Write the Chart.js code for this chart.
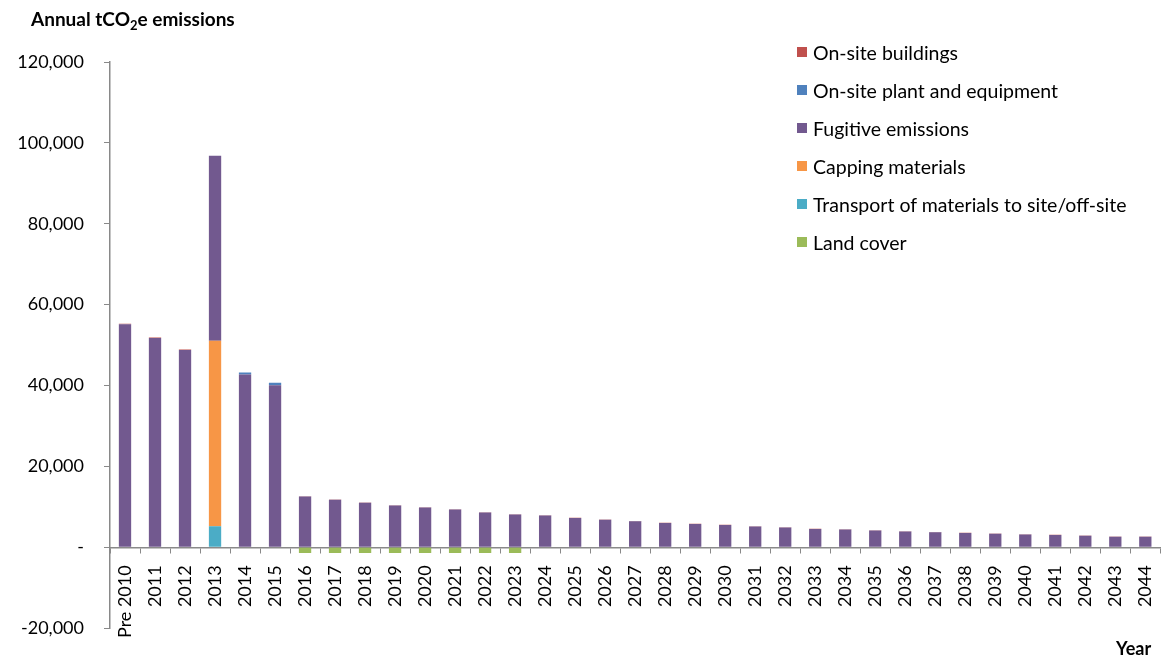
<!DOCTYPE html>
<html lang="en">
<head>
    <meta charset="UTF-8">
    <title>Annual emissions</title>
    <script src="https://cdn.jsdelivr.net/npm/chart.js"></script>
    <style>
        body { margin: 0; overflow: hidden; background: #fff; font-family: Lato, "Open Sans", sans-serif; }
        #wrap { position: absolute; left: 0; top: 0; width: 1180px; height: 659px; }
        #chartTitle { position: absolute; left: 31px; top: 7px; font-weight: bold; font-size: 19px; color: #000; }
        #chartTitle sub { font-size: 13px; vertical-align: -4px; line-height: 0; }
        #yearLabel { position: absolute; left: 1116px; top: 637px; font-weight: bold; font-size: 18px; }
        #legend { position: absolute; left: 797px; top: 41px; font-size: 19.5px; }
        #legend div { display: flex; align-items: center; height: 22px; margin-bottom: 16px; }
        #legend span.box { width: 10px; height: 10px; margin-right: 6px; display: inline-block; }
    </style>
</head>
<body>
    <div id="wrap"><canvas id="emissionsChart"></canvas></div>
    <div id="chartTitle">Annual tCO<sub>2</sub>e emissions</div>
    <div id="legend"></div>
    <div id="yearLabel">Year</div>

    <script>
        const years = ['Pre 2010', '2011', '2012', '2013', '2014', '2015', '2016', '2017', '2018', '2019',
            '2020', '2021', '2022', '2023', '2024', '2025', '2026', '2027', '2028', '2029',
            '2030', '2031', '2032', '2033', '2034', '2035', '2036', '2037', '2038', '2039',
            '2040', '2041', '2042', '2043', '2044'];

        // tCO2e per year, by source
        const onSiteBuildings = [150, 100, 100, 0, 0, 0, 60, 60, 60, 60,
            60, 60, 60, 60, 60, 60, 60, 60, 60, 60,
            60, 60, 60, 60, 60, 60, 60, 60, 60, 60,
            60, 60, 60, 60, 60];
        const onSitePlant = [0, 0, 0, 0, 500, 600, 0, 0, 0, 0,
            0, 0, 0, 0, 0, 0, 0, 0, 0, 0,
            0, 0, 0, 0, 0, 0, 0, 0, 0, 0,
            0, 0, 0, 0, 0];
        const fugitive = [55150, 51750, 48800, 45700, 42700, 40100, 12540, 11790, 11040, 10340,
            9840, 9340, 8590, 8090, 7840, 7240, 6840, 6440, 6040, 5790,
            5540, 5140, 4890, 4540, 4390, 4140, 3890, 3740, 3540, 3340,
            3140, 3040, 2890, 2640, 2590];
        const capping = [0, 0, 0, 45900, 0, 0, 0, 0, 0, 0,
            0, 0, 0, 0, 0, 0, 0, 0, 0, 0,
            0, 0, 0, 0, 0, 0, 0, 0, 0, 0,
            0, 0, 0, 0, 0];
        const transport = [0, 0, 0, 5200, 0, 0, 0, 0, 0, 0,
            0, 0, 0, 0, 0, 0, 0, 0, 0, 0,
            0, 0, 0, 0, 0, 0, 0, 0, 0, 0,
            0, 0, 0, 0, 0];
        const landCover = [0, 0, 0, 0, 0, 0, -1400, -1400, -1400, -1400,
            -1400, -1400, -1400, -1400, 0, 0, 0, 0, 0, 0,
            0, 0, 0, 0, 0, 0, 0, 0, 0, 0,
            0, 0, 0, 0, 0];

        const axisGrey = '#898989';

        // bottom of the stack first, legend lists them the other way round
        const datasets = [
            { label: 'Land cover', data: landCover, backgroundColor: '#9BBB59' },
            { label: 'Transport of materials to site/off-site', data: transport, backgroundColor: '#4BACC6' },
            { label: 'Capping materials', data: capping, backgroundColor: '#F79646' },
            { label: 'Fugitive emissions', data: fugitive, backgroundColor: '#72598F' },
            { label: 'On-site plant and equipment', data: onSitePlant, backgroundColor: '#4F81BD' },
            { label: 'On-site buildings', data: onSiteBuildings, backgroundColor: '#C0504D' }
        ];
        datasets.forEach(ds => {
            ds.barPercentage = 0.41;
            ds.categoryPercentage = 1;
            ds.borderWidth = 0;
        });

        const ctx = document.getElementById('emissionsChart').getContext('2d');
        const chart = new Chart(ctx, {
            type: 'bar',
            data: { labels: years, datasets: datasets },
            options: {
                responsive: true,
                maintainAspectRatio: false,
                animation: false,
                layout: { padding: { top: 62, bottom: 30, right: 6, left: 0 } },
                plugins: { legend: { display: false }, tooltip: { enabled: false } },
                scales: {
                    x: {
                        stacked: true,
                        position: { y: 0 },
                        grid: { display: true, drawOnChartArea: false, drawTicks: true, tickLength: 5, color: axisGrey, offset: true },
                        border: { color: axisGrey, width: 1.5 },
                        ticks: {
                            autoSkip: false, minRotation: 90, maxRotation: 90, padding: 13,
                            color: '#000', font: { family: 'Lato', size: 18 }
                        }
                    },
                    y: {
                        stacked: true,
                        min: -20000,
                        max: 120000,
                        afterFit: scale => { scale.width = 110; },
                        grid: { display: true, drawOnChartArea: false, drawTicks: true, tickLength: 6, color: axisGrey },
                        border: { color: axisGrey, width: 1.5 },
                        ticks: {
                            stepSize: 20000, padding: 20, color: '#000',
                            font: { family: 'Lato', size: 18 },
                            callback: v => v === 0 ? '-' : v.toLocaleString('en-US')
                        }
                    }
                }
            }
        });

        // legend built from the datasets, top entry is the top of the stack
        const legend = document.getElementById('legend');
        legend.innerHTML = chart.data.datasets.slice().reverse().map(ds =>
            `<div><span class="box" style="background:${ds.backgroundColor}"></span>${ds.label}</div>`
        ).join('');
    </script>
</body>
</html>
